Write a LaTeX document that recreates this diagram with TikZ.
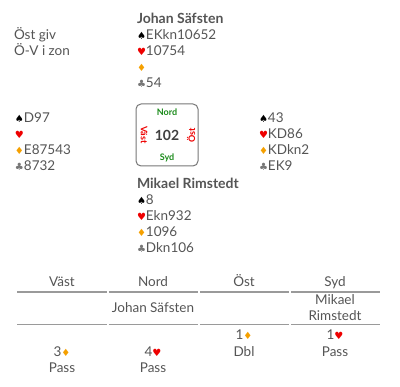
\documentclass[tikz,border=0pt]{standalone}
\usepackage{fontspec}
\setmainfont{Lato}
\newfontfamily\symf{DejaVu Sans}
\definecolor{txt}{HTML}{555555}
\definecolor{hrt}{HTML}{EE0000}
\definecolor{dia}{HTML}{F5A000}
\definecolor{clb}{HTML}{777777}
\definecolor{grn}{HTML}{1A8A1A}
\definecolor{rul}{HTML}{9A9A9A}
\newcommand{\Sp}{{\symf\fontsize{10}{12}\selectfont\color{black}♠}}
\newcommand{\Hr}{{\symf\fontsize{10}{12}\selectfont\color{hrt}♥}}
\newcommand{\Di}{{\symf\fontsize{10}{12}\selectfont\color{dia}♦}}
\newcommand{\Cl}{{\symf\fontsize{10}{12}\selectfont\color{clb}♣}}
\tikzset{
  txtbase/.style={inner sep=0pt,outer sep=0pt,text=txt,font=\fontsize{13.5}{16}\selectfont},
  handline/.style={txtbase,anchor=base west},
  playername/.style={txtbase,anchor=base west,font=\fontsize{14}{16}\selectfont\bfseries},
  bidcell/.style={txtbase,anchor=base},
  dirlabel/.style={inner sep=0pt,font=\fontsize{9}{10}\selectfont\bfseries},
  tablerule/.style={draw=rul,line width=1.6pt}}
\begin{document}
\begin{tikzpicture}[x=1pt,y=-1pt]
\useasboundingbox (0,0) rectangle (400,387);
% dealer info
\node[handline] (giv) at (14,40) {Öst giv};
\node[handline] (zon) at (14,56) {Ö-V i zon};
% North
\node[playername] (nname) at (137,24) {Johan Säfsten};
\node[handline] (ns) at (137,40) {\Sp EKkn10652};
\node[handline] (nh) at (137,56) {\Hr 10754};
\node[handline] (nd) at (137,72) {\Di};
\node[handline] (nc) at (137,88) {\Cl 54};
% West
\node[handline] (ws) at (15,123) {\Sp D97};
\node[handline] (wh) at (15,139) {\Hr};
\node[handline] (wd) at (15,155) {\Di E87543};
\node[handline] (wc) at (15,171) {\Cl 8732};
% East
\node[handline] (es) at (259,123) {\Sp 43};
\node[handline] (eh) at (259,139) {\Hr KD86};
\node[handline] (ed) at (259,155) {\Di KDkn2};
\node[handline] (ec) at (259,171) {\Cl EK9};
% compass box
\node[draw=txt!80,line width=1pt,rounded corners=5pt,minimum width=62pt,minimum height=62pt,inner sep=0pt] (box) at (167,135) {};
\node[txtbase,font=\fontsize{14}{16}\selectfont\bfseries,text=black!75] (board) at (167,135.5) {102};
\node[dirlabel,text=grn] (bn) at (167,112) {Nord};
\node[dirlabel,text=grn] (bs) at (167,158) {Syd};
\node[dirlabel,text=hrt,rotate=-90] (bw) at (144,135) {Väst};
\node[dirlabel,text=hrt,rotate=90] (be) at (191,135) {Öst};
% South
\node[playername] (sname) at (137,189) {Mikael Rimstedt};
\node[handline] (ss) at (137,205) {\Sp 8};
\node[handline] (sh) at (137,221) {\Hr Ekn932};
\node[handline] (sd) at (137,237) {\Di 1096};
\node[handline] (sc) at (137,253) {\Cl Dkn106};
% bidding table
\node[bidcell] (hw) at (62,287) {Väst};
\node[bidcell] (hn) at (153,287) {Nord};
\node[bidcell] (he) at (244,287) {Öst};
\node[bidcell] (hs) at (335,287) {Syd};
\draw[tablerule] (17,292) -- (107,292);
\draw[tablerule] (108.5,292) -- (198,292);
\draw[tablerule] (200,292) -- (289,292);
\draw[tablerule] (291,292) -- (380,292);
\node[bidcell] (pn) at (153,313) {Johan Säfsten};
\node[bidcell] (ps1) at (335,305) {Mikael};
\node[bidcell] (ps2) at (335,321) {Rimstedt};
\draw[tablerule] (17,324.5) -- (107,324.5);
\draw[tablerule] (108.5,324.5) -- (198,324.5);
\draw[tablerule] (200,324.5) -- (289,324.5);
\draw[tablerule] (291,324.5) -- (380,324.5);
\node[bidcell] (b1) at (244,340) {1\Di};
\node[bidcell] (b2) at (335,340) {1\Hr};
\node[bidcell] (b3) at (62,357) {3\Di};
\node[bidcell] (b4) at (153,357) {4\Hr};
\node[bidcell] (b5) at (244,357) {Dbl};
\node[bidcell] (b6) at (335,357) {Pass};
\node[bidcell] (b7) at (62,373) {Pass};
\node[bidcell] (b8) at (153,373) {Pass};
\end{tikzpicture}
\end{document}
